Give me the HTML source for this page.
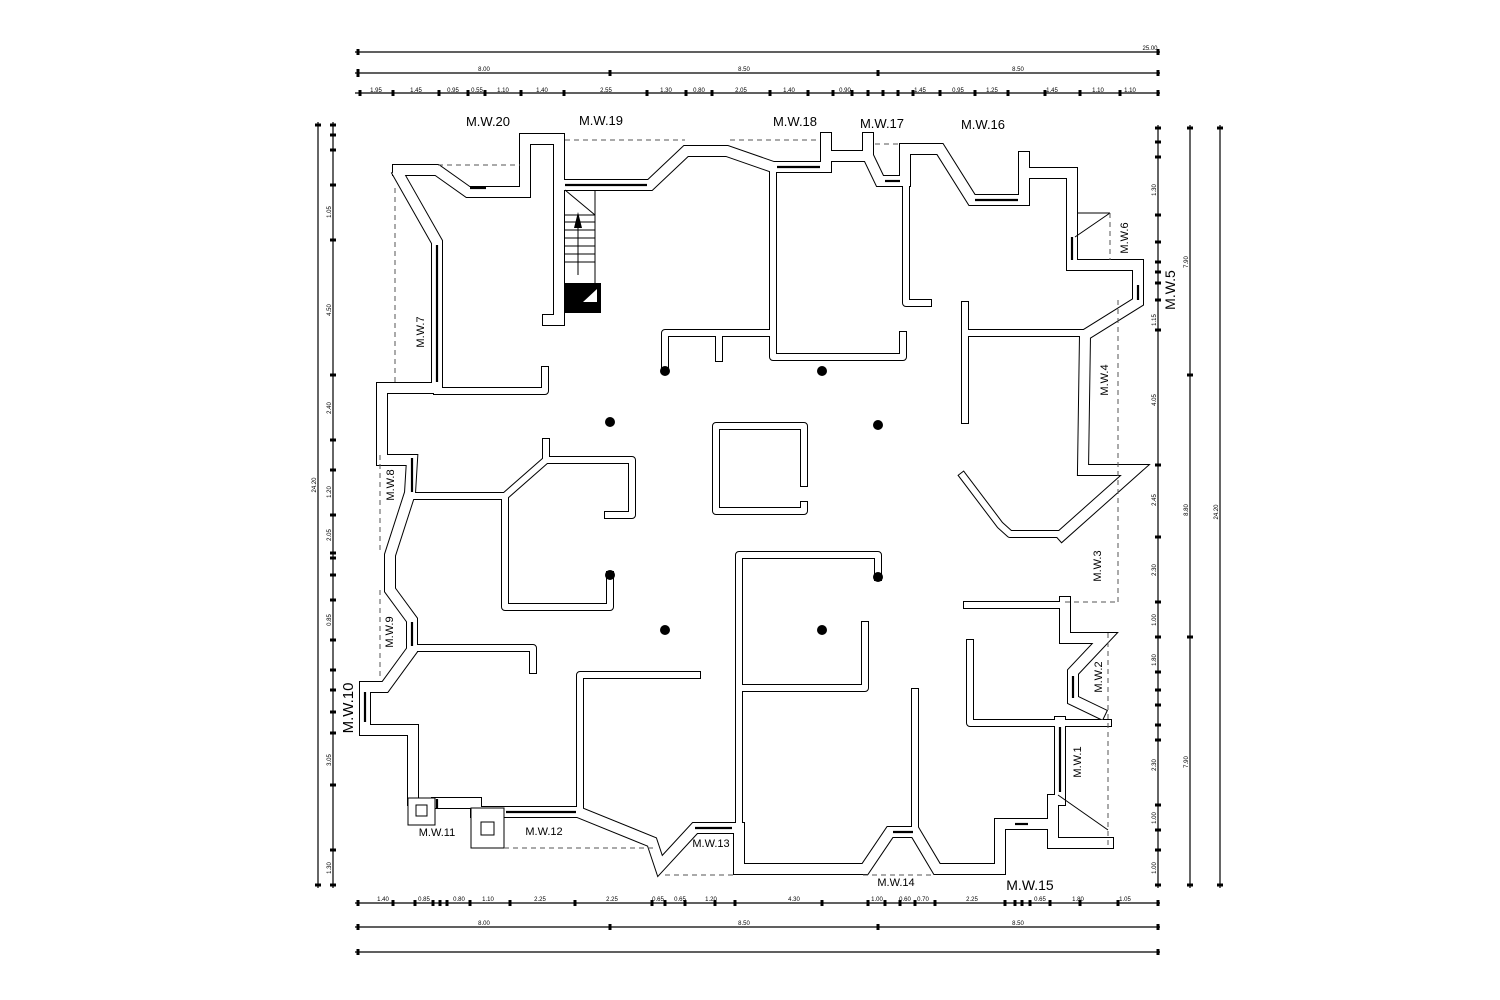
<!DOCTYPE html>
<html><head><meta charset="utf-8"><style>
html,body{margin:0;padding:0;background:#fff;}
svg{display:block}
text{font-family:"Liberation Sans",Arial,sans-serif;fill:#000}
.d{font-size:6px}
.l{font-size:13px}
</style></head><body>
<svg width="1500" height="1000" viewBox="0 0 1500 1000" xmlns="http://www.w3.org/2000/svg">
<defs>
<g id="ext" fill="none" stroke-linejoin="miter">
<polyline points="398,170 437,170 468,192 525,192 525,139 559,139 559,320 548,320"/>
<polyline points="559,185 650,185 686,151 727,151 773,167 826,167 826,138"/>
<polyline points="826,156 866,156"/>
<polyline points="868,138 868,156 880,181 905,181 905,149 940,149 972,200 1024,200 1024,157"/>
<polyline points="1024,173 1072,173 1072,265 1138,265 1138,302 1085,335 1083,470 1135,470 1062,535"/>
<polyline points="1065,602 1065,638 1105,638 1073,672 1073,700 1100,713"/>
<polyline points="1060,722 1060,800"/>
<polyline points="1053,800 1053,843 1108,843"/>
<polyline points="1045,824 1000,824 1000,869 937,869 915,832 890,832 865,869 739,869 739,828 695,828 660,866 652,842 578,812 504,812"/>
<polyline points="504,812 476,812 476,803 437,803"/>
<polyline points="413,800 413,730 365,730 365,687 385,687 412,650 412,620 390,590 390,555 410,493 412,460 382,460 382,388 437,388 437,242 399,175"/>
</g>
<g id="int" fill="none" stroke-linejoin="round">
<polyline points="773,167 773,357 903,357 903,335"/>
<polyline points="773,333 665,333 665,368"/>
<polyline points="719,333 719,358"/>
<polyline points="906,181 906,303 928,303"/>
<polyline points="1083,333 968,333"/>
<polyline points="965,305 965,420"/>
<polyline points="437,391 545,391 545,370"/>
<polyline points="413,496 505,496 546,460 546,442"/>
<polyline points="546,460 632,460 632,515 608,515"/>
<polyline points="505,496 505,607 610,607 610,575"/>
<polyline points="413,648 533,648 533,670"/>
<polyline points="697,675 580,675 580,810"/>
<polyline points="804,483 804,426 716,426 716,511 804,511 804,505"/>
<polyline points="739,869 739,555 878,555 878,577"/>
<polyline points="739,688 865,688 865,625"/>
<polyline points="915,830 915,692"/>
<polyline points="967,605 1062,605"/>
<polyline points="970,643 970,723 1058,723 1108,723"/>
<polyline points="963,476 1000,525 1010,534 1062,534"/>
</g>
</defs>
<!-- walls -->
<use href="#ext" stroke="#000" stroke-width="12" stroke-linecap="square"/>
<use href="#int" stroke="#000" stroke-width="8" stroke-linecap="square"/>
<use href="#ext" stroke="#fff" stroke-width="10" stroke-linecap="square"/>
<use href="#int" stroke="#fff" stroke-width="6" stroke-linecap="square"/>

<!-- windows -->
<g stroke="#000" stroke-width="2.2" fill="none">
<line x1="437" y1="245" x2="437" y2="382"/>
<line x1="565" y1="185" x2="647" y2="185"/>
<line x1="777" y1="167" x2="820" y2="167"/>
<line x1="885" y1="181" x2="900" y2="181"/>
<line x1="975" y1="200" x2="1018" y2="200"/>
<line x1="1072" y1="237" x2="1072" y2="260"/>
<line x1="1138" y1="285" x2="1138" y2="300"/>
<line x1="1073" y1="676" x2="1073" y2="698"/>
<line x1="1060" y1="727" x2="1060" y2="792"/>
<line x1="1015" y1="824" x2="1028" y2="824"/>
<line x1="893" y1="832" x2="913" y2="832"/>
<line x1="695" y1="828" x2="732" y2="828"/>
<line x1="506" y1="812" x2="576" y2="812"/>
<line x1="437" y1="799" x2="437" y2="808"/>
<line x1="365" y1="692" x2="365" y2="722"/>
<line x1="412" y1="622" x2="412" y2="646"/>
<line x1="412" y1="458" x2="412" y2="492"/>
<line x1="470" y1="188" x2="486" y2="188"/>
</g>
<!-- thin lines -->
<g stroke="#000" stroke-width="1" fill="none">
<line x1="1077" y1="213" x2="1110" y2="213"/><line x1="1110" y1="213" x2="1075" y2="237"/>
<line x1="1058" y1="795" x2="1108" y2="830"/>
<rect x="408" y="798" width="27" height="27" fill="#fff"/>
<rect x="416" y="805" width="11" height="11"/>
<rect x="471" y="808" width="33" height="40" fill="#fff"/>
<rect x="481" y="822" width="13" height="13"/>
<!-- stair -->
<line x1="565" y1="190" x2="595" y2="215"/>
<line x1="595" y1="190" x2="595" y2="285"/>
<line x1="565" y1="215" x2="595" y2="215"/>
<line x1="565" y1="222" x2="595" y2="222"/><line x1="565" y1="230" x2="595" y2="230"/><line x1="565" y1="238" x2="595" y2="238"/><line x1="565" y1="246" x2="595" y2="246"/><line x1="565" y1="254" x2="595" y2="254"/><line x1="565" y1="262" x2="595" y2="262"/>
<line x1="578" y1="225" x2="578" y2="275"/>
</g>
<polygon points="578,212 574,228 582,228" fill="#000"/>
<rect x="565" y="283" width="36" height="30" fill="#000"/>
<polygon points="583,302 597,302 597,289" fill="#fff"/>
<!-- dashed outline -->
<g stroke="#555" stroke-width="1" stroke-dasharray="5,4" fill="none">
<line x1="438" y1="165" x2="520" y2="165"/>
<line x1="565" y1="140" x2="685" y2="140"/>
<line x1="730" y1="140" x2="820" y2="140"/>
<line x1="875" y1="144" x2="900" y2="144"/>
<line x1="395" y1="188" x2="395" y2="382"/>
<line x1="380" y1="455" x2="380" y2="553"/>
<line x1="380" y1="590" x2="380" y2="680"/>
<line x1="504" y1="848" x2="655" y2="848"/>
<line x1="665" y1="875" x2="735" y2="875"/>
<line x1="863" y1="875" x2="933" y2="875"/>
<line x1="1110" y1="213" x2="1110" y2="260"/>
<line x1="1118" y1="300" x2="1118" y2="602"/>
<line x1="1065" y1="602" x2="1118" y2="602"/>
<line x1="1108" y1="633" x2="1108" y2="848"/>
</g>
<!-- columns -->
<g fill="#000">
<circle cx="665" cy="371" r="5"/><circle cx="822" cy="371" r="5"/><circle cx="610" cy="422" r="5"/><circle cx="878" cy="425" r="5"/>
<circle cx="610" cy="575" r="5"/><circle cx="665" cy="630" r="5"/><circle cx="822" cy="630" r="5"/><circle cx="878" cy="577" r="5"/>
</g>
<!-- dimension lines -->
<g stroke="#000" stroke-width="1.2">
<line x1="355" y1="52" x2="1160" y2="52"/><line x1="355" y1="73" x2="1160" y2="73"/><line x1="355" y1="93" x2="1160" y2="93"/>
<line x1="355" y1="903" x2="1160" y2="903"/><line x1="355" y1="927" x2="1160" y2="927"/><line x1="355" y1="952" x2="1160" y2="952"/>
<line x1="318" y1="122" x2="318" y2="888"/><line x1="333" y1="122" x2="333" y2="888"/>
<line x1="1158" y1="125" x2="1158" y2="888"/><line x1="1190" y1="125" x2="1190" y2="888"/><line x1="1220" y1="125" x2="1220" y2="888"/>
</g>
<g fill="#000">
<!-- ticks horizontal -->
<g id="tk"></g>
</g>
<g stroke="#000" stroke-width="3">
<path d="M358 49v6M1158 49v6M358 69v8M610 70v6M878 70v6M1158 70v6
M360 90v6M393 90v6M439 90v6M468 90v6M485 90v6M521 90v6M564 90v6M647 90v6M686 90v6M712 90v6M770 90v6M808 90v6M833 90v6M852 90v6M868 90v6M883 90v6M898 90v6M913 90v6M940 90v6M975 90v6M1008 90v6M1045 90v6M1080 90v6M1120 90v6M1158 90v6
M358 900v6M393 900v6M415 900v6M433 900v6M440 900v6M447 900v6M470 900v6M510 900v6M575 900v6M652 900v6M665 900v6M685 900v6M715 900v6M735 900v6M822 900v6M868 900v6M885 900v6M900 900v6M915 900v6M935 900v6M1005 900v6M1015 900v6M1022 900v6M1030 900v6M1050 900v6M1080 900v6M1118 900v6M1158 900v6
M358 924v6M610 924v6M878 924v6M1158 924v6M358 949v6M1158 949v6"/>
<path d="M315 125h6M315 885h6
M330 125h6M330 135h6M330 150h6M330 185h6M330 240h6M330 375h6M330 440h6M330 470h6M330 515h6M330 553h6M330 558h6M330 575h6M330 600h6M330 640h6M330 670h6M330 690h6M330 712h6M330 733h6M330 785h6M330 850h6M330 885h6
M1155 128h6M1155 142h6M1155 157h6M1155 215h6M1155 242h6M1155 262h6M1155 272h6M1155 283h6M1155 300h6M1155 330h6M1155 465h6M1155 537h6M1155 602h6M1155 637h6M1155 672h6M1155 690h6M1155 705h6M1155 725h6M1155 740h6M1155 805h6M1155 830h6M1155 850h6M1155 885h6
M1187 128h6M1187 375h6M1187 637h6M1187 885h6M1217 128h6M1217 885h6"/>
</g>
<!-- dimension text -->
<g class="d">
<text x="1150" y="50" text-anchor="middle">25.00</text>
<text x="484" y="71" text-anchor="middle">8.00</text><text x="744" y="71" text-anchor="middle">8.50</text><text x="1018" y="71" text-anchor="middle">8.50</text>
<text x="376" y="92" text-anchor="middle">1.95</text><text x="416" y="92" text-anchor="middle">1.45</text><text x="453" y="92" text-anchor="middle">0.95</text><text x="477" y="92" text-anchor="middle">0.55</text><text x="503" y="92" text-anchor="middle">1.10</text><text x="542" y="92" text-anchor="middle">1.40</text><text x="606" y="92" text-anchor="middle">2.55</text><text x="666" y="92" text-anchor="middle">1.30</text><text x="699" y="92" text-anchor="middle">0.80</text><text x="741" y="92" text-anchor="middle">2.05</text><text x="789" y="92" text-anchor="middle">1.40</text><text x="845" y="92" text-anchor="middle">0.90</text><text x="920" y="92" text-anchor="middle">1.45</text><text x="958" y="92" text-anchor="middle">0.95</text><text x="992" y="92" text-anchor="middle">1.25</text><text x="1052" y="92" text-anchor="middle">1.45</text><text x="1098" y="92" text-anchor="middle">1.10</text><text x="1130" y="92" text-anchor="middle">1.10</text>
<text x="383" y="901" text-anchor="middle">1.40</text><text x="424" y="901" text-anchor="middle">0.85</text><text x="459" y="901" text-anchor="middle">0.80</text><text x="488" y="901" text-anchor="middle">1.10</text><text x="540" y="901" text-anchor="middle">2.25</text><text x="612" y="901" text-anchor="middle">2.25</text><text x="658" y="901" text-anchor="middle">0.65</text><text x="680" y="901" text-anchor="middle">0.65</text><text x="711" y="901" text-anchor="middle">1.20</text><text x="794" y="901" text-anchor="middle">4.30</text><text x="877" y="901" text-anchor="middle">1.00</text><text x="905" y="901" text-anchor="middle">0.60</text><text x="923" y="901" text-anchor="middle">0.70</text><text x="972" y="901" text-anchor="middle">2.25</text><text x="1040" y="901" text-anchor="middle">0.65</text><text x="1078" y="901" text-anchor="middle">1.80</text><text x="1125" y="901" text-anchor="middle">1.05</text>
<text x="484" y="925" text-anchor="middle">8.00</text><text x="744" y="925" text-anchor="middle">8.50</text><text x="1018" y="925" text-anchor="middle">8.50</text>
<text transform="translate(316,485) rotate(-90)" text-anchor="middle">24.20</text>
<text transform="translate(331,310) rotate(-90)" text-anchor="middle">4.50</text>
<text transform="translate(331,212) rotate(-90)" text-anchor="middle">1.05</text>
<text transform="translate(331,408) rotate(-90)" text-anchor="middle">2.40</text>
<text transform="translate(331,492) rotate(-90)" text-anchor="middle">1.20</text>
<text transform="translate(331,535) rotate(-90)" text-anchor="middle">2.05</text>
<text transform="translate(331,620) rotate(-90)" text-anchor="middle">0.85</text>
<text transform="translate(331,760) rotate(-90)" text-anchor="middle">3.05</text>
<text transform="translate(331,868) rotate(-90)" text-anchor="middle">1.30</text>
<text transform="translate(1156,190) rotate(-90)" text-anchor="middle">1.30</text>
<text transform="translate(1156,320) rotate(-90)" text-anchor="middle">1.15</text>
<text transform="translate(1156,400) rotate(-90)" text-anchor="middle">4.05</text>
<text transform="translate(1156,500) rotate(-90)" text-anchor="middle">2.45</text>
<text transform="translate(1156,570) rotate(-90)" text-anchor="middle">2.30</text>
<text transform="translate(1156,620) rotate(-90)" text-anchor="middle">1.00</text>
<text transform="translate(1156,660) rotate(-90)" text-anchor="middle">1.80</text>
<text transform="translate(1156,765) rotate(-90)" text-anchor="middle">2.30</text>
<text transform="translate(1156,818) rotate(-90)" text-anchor="middle">1.00</text>
<text transform="translate(1156,868) rotate(-90)" text-anchor="middle">1.00</text>
<text transform="translate(1188,262) rotate(-90)" text-anchor="middle">7.90</text>
<text transform="translate(1188,510) rotate(-90)" text-anchor="middle">8.80</text>
<text transform="translate(1188,762) rotate(-90)" text-anchor="middle">7.90</text>
<text transform="translate(1218,512) rotate(-90)" text-anchor="middle">24.20</text>
</g>
<!-- labels -->
<g class="l">
<text x="488" y="126" text-anchor="middle">M.W.20</text>
<text x="601" y="125" text-anchor="middle">M.W.19</text>
<text x="795" y="126" text-anchor="middle">M.W.18</text>
<text x="882" y="128" text-anchor="middle">M.W.17</text>
<text x="983" y="129" text-anchor="middle">M.W.16</text>
<text x="1030" y="890" text-anchor="middle" style="font-size:14px">M.W.15</text>
<text x="896" y="886" text-anchor="middle" style="font-size:11px">M.W.14</text>
<text x="711" y="847" text-anchor="middle" style="font-size:11px">M.W.13</text>
<text x="544" y="835" text-anchor="middle" style="font-size:11px">M.W.12</text>
<text x="437" y="836" text-anchor="middle" style="font-size:11px">M.W.11</text>
<text transform="translate(353,708) rotate(-90)" text-anchor="middle" style="font-size:15px">M.W.10</text>
<text transform="translate(393,632) rotate(-90)" text-anchor="middle" style="font-size:11px">M.W.9</text>
<text transform="translate(394,485) rotate(-90)" text-anchor="middle" style="font-size:11px">M.W.8</text>
<text transform="translate(424,332) rotate(-90)" text-anchor="middle" style="font-size:11px">M.W.7</text>
<text transform="translate(1128,238) rotate(-90)" text-anchor="middle" style="font-size:11px">M.W.6</text>
<text transform="translate(1175,290) rotate(-90)" text-anchor="middle" style="font-size:14px">M.W.5</text>
<text transform="translate(1108,380) rotate(-90)" text-anchor="middle" style="font-size:11px">M.W.4</text>
<text transform="translate(1101,566) rotate(-90)" text-anchor="middle" style="font-size:11px">M.W.3</text>
<text transform="translate(1102,677) rotate(-90)" text-anchor="middle" style="font-size:11px">M.W.2</text>
<text transform="translate(1081,762) rotate(-90)" text-anchor="middle" style="font-size:11px">M.W.1</text>
</g>
</svg>
</body></html>
